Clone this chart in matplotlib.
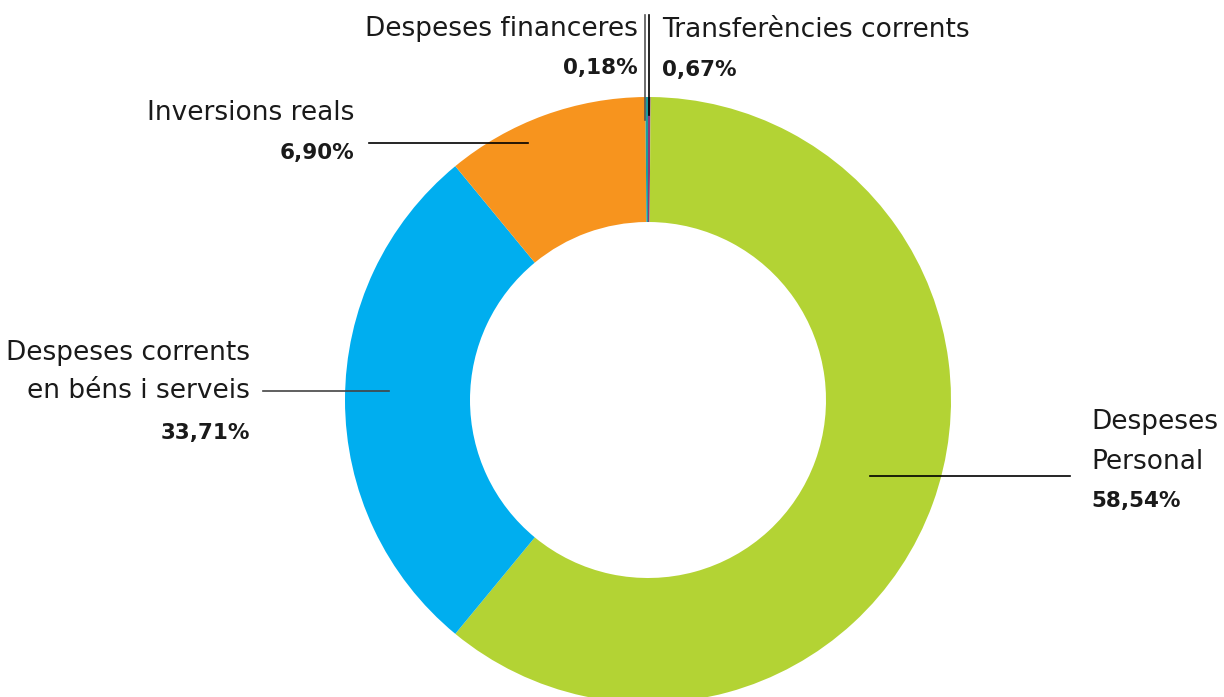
import matplotlib.pyplot as plt

# label texts as printed on the chart
labels = ['Transferències corrents', 'Despeses\nPersonal',
          'Despeses corrents\nen béns i serveis', 'Inversions reals',
          'Despeses financeres']
pct_text = ['0,67%', '58,54%', '33,71%', '6,90%', '0,18%']
# wedge shares as drawn in the picture (clockwise from the top)
shares = [0.14, 60.83, 28.06, 10.83, 0.14]
colors = ['#8B3A7A', '#B3D334', '#00AEEF', '#F7941E', '#1A9EA0']

W, H = 1224, 697
fig = plt.figure(figsize=(W / 100, H / 100), dpi=100)
# axes stops at x=950 px so the donut is cut on the right like the original
ax = fig.add_axes([0, 0, 950 / W, 1])
ax.pie(shares, colors=colors, startangle=90, counterclock=False,
       radius=303, center=(648, H - 400),
       wedgeprops=dict(width=125, linewidth=0))
ax.set_xlim(0, 950)
ax.set_ylim(0, H)
ax.set_aspect('auto')
ax.axis('off')

def py(y):
    return H - y

fs = 19
fsb = 15.5
lc = '#1a1a1a'

# leader lines
ax.plot([645, 645], [py(15), py(120)], color='#555555', lw=1.2, clip_on=False)
ax.plot([648.5, 648.5], [py(15), py(115)], color='black', lw=1.2, clip_on=False)
ax.plot([369, 528], [py(143), py(143)], color='black', lw=1.2, clip_on=False)
ax.plot([263, 389], [py(391), py(391)], color='#444444', lw=1.2, clip_on=False)
ax.plot([870, 1070], [py(476), py(476)], color='black', lw=1.2, clip_on=False)

def label(x, y, text, ha, bold=False):
    ax.text(x, py(y), text, ha=ha, va='center', color=lc,
            fontsize=fsb if bold else fs,
            fontweight='bold' if bold else 'normal')

# Despeses financeres
label(638, 29, labels[4], 'right')
label(638, 68, pct_text[4], 'right', True)
# Transferències corrents
label(662, 30, labels[0], 'left')
label(662, 70, pct_text[0], 'left', True)
# Inversions reals
label(354, 113, labels[3], 'right')
label(354, 153, pct_text[3], 'right', True)
# Despeses corrents en béns i serveis
for i, line in enumerate(labels[2].split('\n')):
    label(250, 353 + 38 * i, line, 'right')
label(250, 433, pct_text[2], 'right', True)
# Despeses Personal
for i, line in enumerate(labels[1].split('\n')):
    label(1091, 422 + 40 * i, line, 'left')
label(1091, 501, pct_text[1], 'left', True)

fig.savefig('out.png', dpi=100)
